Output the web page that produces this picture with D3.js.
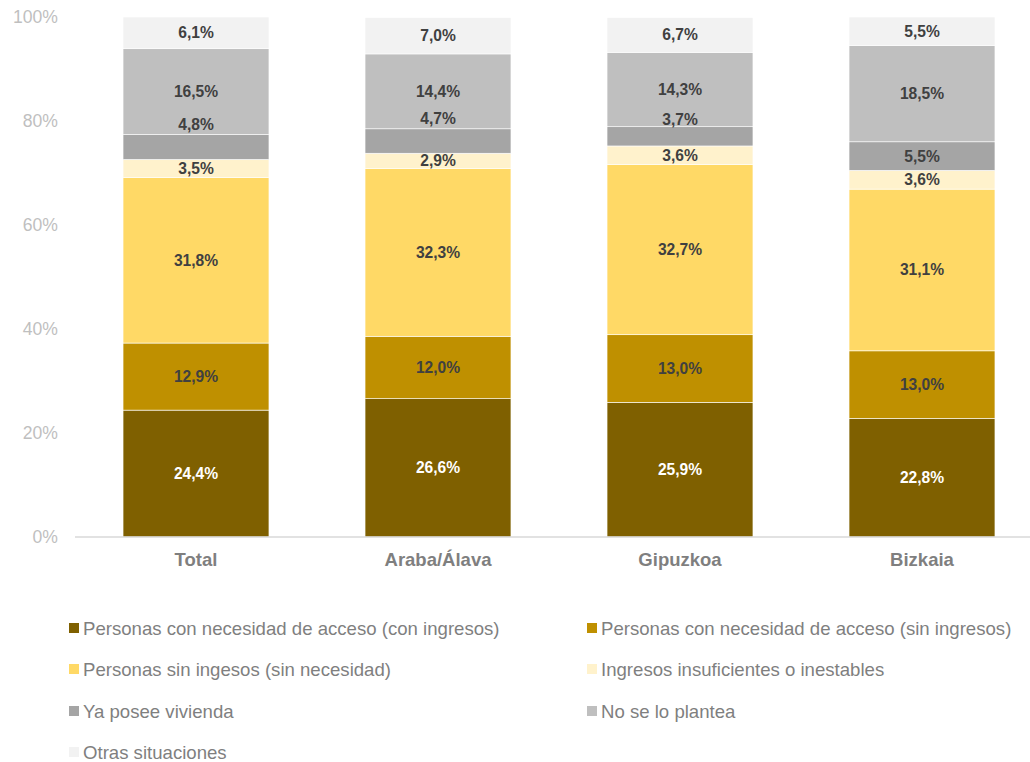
<!DOCTYPE html>
<html>
<head>
<meta charset="utf-8">
<script src="https://cdn.jsdelivr.net/npm/d3@7"></script>
<style>
  body { margin: 0; background: #fff; }
  svg { display: block; font-family: "Liberation Sans", Arial, sans-serif; }
</style>
</head>
<body>
<svg id="chart"></svg>
<script>
// categories and series (values in %)
const categories = ["Total", "Araba/Álava", "Gipuzkoa", "Bizkaia"];
const seriesNames = [
  "Personas con necesidad de acceso (con ingresos)",
  "Personas con necesidad de acceso (sin ingresos)",
  "Personas sin ingesos (sin necesidad)",
  "Ingresos insuficientes o inestables",
  "Ya posee vivienda",
  "No se lo plantea",
  "Otras situaciones"
];
const conIngresos   = [24.4, 26.6, 25.9, 22.8];
const sinIngresos   = [12.9, 12.0, 13.0, 13.0];
const sinNecesidad  = [31.8, 32.3, 32.7, 31.1];
const insuficientes = [3.5, 2.9, 3.6, 3.6];
const yaPosee       = [4.8, 4.7, 3.7, 5.5];
const noPlantea     = [16.5, 14.4, 14.3, 18.5];
const otras         = [6.1, 7.0, 6.7, 5.5];
const yTicks = [0, 20, 40, 60, 80, 100];

const seriesValues = [conIngresos, sinIngresos, sinNecesidad, insuficientes, yaPosee, noPlantea, otras];
const colors = ["#7f6000", "#bf9000", "#ffd966", "#fff2cc", "#a5a5a5", "#bfbfbf", "#f2f2f2"];

// "Ya posee vivienda" labels were nudged up in the original (px, per category)
const yaPoseeShift = [-22, -22, -17, 0];

const width = 1030, height = 762;
const margin = {top: 17, left: 75, bottom: 225};

const svg = d3.select("#chart").attr("width", width).attr("height", height);

const table = categories.map((c, i) => {
  const row = {cat: c};
  seriesNames.forEach((s, j) => row[s] = seriesValues[j][i]);
  return row;
});
const stacked = d3.stack().keys(seriesNames)(table);

const x = d3.scaleBand().domain(categories).range([margin.left, 1043])
  .paddingInner(0.397).paddingOuter(0.1985);
const y = d3.scaleLinear().domain([0, 100]).range([537, margin.top]);

// y tick labels (no gridlines)
svg.append("g").selectAll("text")
  .data(yTicks).join("text")
  .attr("x", 58).attr("y", d => y(d)).attr("dy", "0.35em")
  .attr("text-anchor", "end")
  .attr("font-size", 17.6).attr("fill", "#bfbfbf")
  .text(d => d + "%");

// bars
const layers = svg.append("g").selectAll("g")
  .data(stacked).join("g")
  .attr("fill", (d, i) => colors[i]);

layers.selectAll("rect")
  .data(d => d).join("rect")
  .attr("x", d => x(d.data.cat))
  .attr("width", x.bandwidth())
  .attr("y", d => y(d[1]))
  .attr("height", d => y(d[0]) - y(d[1]))
  .attr("stroke", "#ffffff").attr("stroke-width", 0.6);

// axis line
svg.append("line")
  .attr("x1", margin.left).attr("x2", width)
  .attr("y1", y(0)).attr("y2", y(0))
  .attr("stroke", "#d9d9d9").attr("stroke-width", 1.5);

// value labels
stacked.forEach((layer, si) => {
  svg.append("g").selectAll("text")
    .data(layer).join("text")
    .attr("x", d => x(d.data.cat) + x.bandwidth() / 2)
    .attr("y", (d, i) => (y(d[0]) + y(d[1])) / 2 + (si === 4 ? yaPoseeShift[i] : 0))
    .attr("dy", "0.35em")
    .attr("text-anchor", "middle")
    .attr("font-size", 15.6).attr("font-weight", "bold")
    .attr("fill", si === 0 ? "#ffffff" : "#404040")
    .text(d => d3.format(".1f")(d[1] - d[0]).replace(".", ",") + "%");
});

// category labels
svg.append("g").selectAll("text")
  .data(categories).join("text")
  .attr("x", d => x(d) + x.bandwidth() / 2)
  .attr("y", 560).attr("dy", "0.35em")
  .attr("text-anchor", "middle")
  .attr("font-size", 18.5).attr("font-weight", "bold").attr("fill", "#7f7f7f")
  .text(d => d);

// legend, two columns
const legendX = [69, 587];
const legendY = [628, 669, 711, 752];
const legend = svg.append("g").selectAll("g")
  .data(seriesNames).join("g")
  .attr("transform", (d, i) => `translate(${legendX[i % 2]},${legendY[Math.floor(i / 2)]})`);
legend.append("rect")
  .attr("x", 0).attr("y", -5).attr("width", 10).attr("height", 10)
  .attr("fill", (d, i) => colors[i]);
legend.append("text")
  .attr("x", 14).attr("y", 0).attr("dy", "0.35em")
  .attr("font-size", 18.6).attr("fill", "#7f7f7f")
  .text(d => d);
</script>
</body>
</html>
